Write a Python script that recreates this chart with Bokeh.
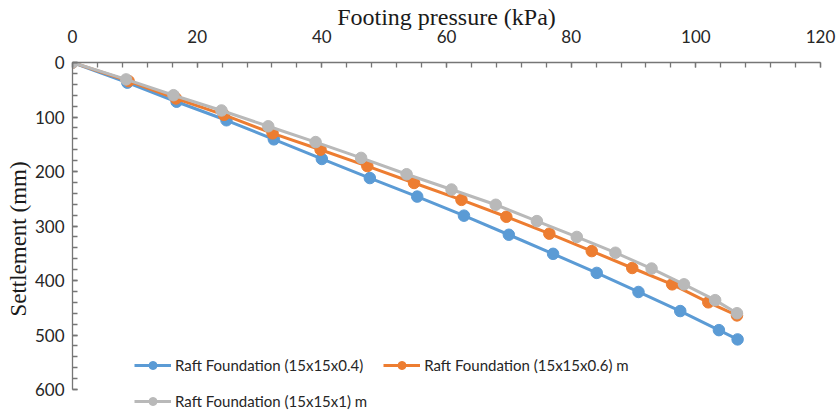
from bokeh.plotting import figure
from bokeh.models import Range1d, SingleIntervalTicker, Legend, LegendItem
from bokeh.embed import file_html
from bokeh.resources import INLINE

# Footing pressure (kPa) and settlement (mm) for each raft thickness
pressure_04 = [0, 8.8, 16.7, 24.7, 32.3, 40.0, 47.7, 55.3, 62.8, 70.0, 77.1, 84.1, 90.8, 97.5, 103.7, 106.7]
settle_04 = [0, 37, 72, 106, 141, 177, 212, 246, 281, 316, 351, 386, 421, 456, 491, 508]

pressure_06 = [0, 9.0, 16.6, 24.3, 32.1, 39.8, 47.3, 54.8, 62.4, 69.6, 76.5, 83.3, 89.8, 96.2, 102.0, 106.6]
settle_06 = [0, 34, 66, 96, 130, 160, 190, 221, 252, 283, 314, 346, 377, 407, 440, 464]

pressure_10 = [0, 8.6, 16.2, 23.9, 31.4, 39.0, 46.3, 53.6, 60.8, 67.9, 74.5, 80.9, 87.1, 92.9, 98.1, 103.1, 106.6]
settle_10 = [0, 31, 60, 88, 117, 146, 175, 205, 233, 261, 291, 320, 349, 378, 407, 436, 460]

series_labels = [
    "Raft Foundation (15x15x0.4)",
    "Raft Foundation (15x15x0.6) m",
    "Raft Foundation (15x15x1) m",
]
series_colors = ["#5B9BD5", "#ED7D31", "#B9B9B9"]

p = figure(
    width=839, height=415,
    x_range=Range1d(0, 120),
    y_range=Range1d(647.6, 0),
    x_axis_location="above",
    output_backend="svg",
    toolbar_location=None,
    min_border_left=72, min_border_right=19,
    min_border_top=61, min_border_bottom=0,
)
p.outline_line_color = None
p.xgrid.visible = False
p.ygrid.visible = False
p.background_fill_color = "white"
p.border_fill_color = "white"

tick_font = "Lato"
axis_col = "#767676"

for ax, interval, bounds in ((p.xaxis[0], 20, (0, 120)), (p.yaxis[0], 100, (0, 600))):
    ax.ticker = SingleIntervalTicker(interval=interval, num_minor_ticks=5)
    ax.bounds = bounds
    ax.axis_line_color = axis_col
    ax.axis_line_width = 1.3
    ax.major_tick_line_color = axis_col
    ax.minor_tick_line_color = axis_col
    ax.major_tick_line_width = 1.3
    ax.minor_tick_line_width = 1.3
    ax.major_tick_in = 5
    ax.major_tick_out = 0
    ax.minor_tick_in = 5
    ax.minor_tick_out = 0
    ax.major_label_text_font = tick_font
    ax.major_label_text_font_size = "17px"
    ax.major_label_text_color = "#262626"
    ax.axis_label_text_font = "Liberation Serif"
    ax.axis_label_text_font_style = "normal"
    ax.axis_label_text_color = "#1a1a1a"

p.xaxis.axis_label = "Footing pressure (kPa)"
p.xaxis.axis_label_text_font_size = "24px"
p.xaxis.major_label_standoff = 20
p.xaxis.axis_label_standoff = -3
p.yaxis.axis_label = "Settlement (mm)"
p.yaxis.axis_label_text_font_size = "23px"
p.yaxis.major_label_standoff = 8
p.yaxis.axis_label_standoff = 1

items = []
for xs, ys, lab, col in zip(
    (pressure_04, pressure_06, pressure_10),
    (settle_04, settle_06, settle_10),
    series_labels, series_colors,
):
    ln = p.line(xs, ys, line_color=col, line_width=3)
    sc = p.scatter(xs, ys, size=11.5, fill_color=col, line_color=col)
    items.append(LegendItem(label=lab, renderers=[ln, sc]))

legend_style = dict(
    orientation="horizontal",
    padding=0, margin=0,
    spacing=20,
    glyph_width=37, glyph_height=20,
    label_height=20, label_standoff=4,
    label_text_font=tick_font,
    label_text_font_size="15px",
    label_text_color="#262626",
    border_line_alpha=0,
    background_fill_alpha=0,
)
# first row: the 0.4 m and 0.6 m rafts; second row: the 1 m raft
p.add_layout(Legend(items=items[:2], location=(62, 40), **legend_style), "center")
p.add_layout(Legend(items=items[2:], location=(62, 4), **legend_style), "center")

open("out.html", "w").write(file_html(p, INLINE))
